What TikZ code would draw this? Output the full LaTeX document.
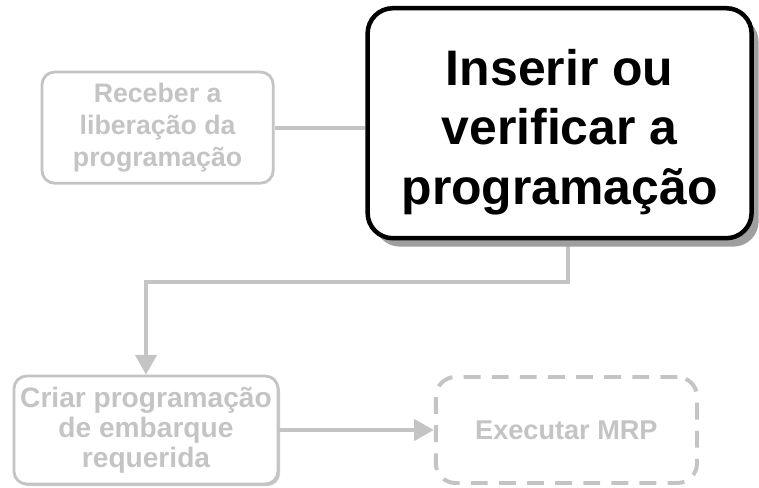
\documentclass[tikz,border=0pt]{standalone}
\usepackage{fontspec}
\setmainfont{Liberation Sans}
\usetikzlibrary{arrows.meta,shapes,shadows,backgrounds}
\definecolor{cinza}{HTML}{C4C4C4}
\tikzset{
  caixa/.style={draw=cinza,line width=2pt,rounded corners=9pt,align=center,text=cinza,fill=white,
    font=\fontsize{19}{22.5}\selectfont\bfseries},
  ligacao/.style={cinza,line width=2.8pt},
  seta/.style={ligacao,-{Triangle[length=14pt,width=15pt]}}
}
\begin{document}
\begin{tikzpicture}
\useasboundingbox (0,0) rectangle (18.975,-12.175);
%% caixas
\node[caixa,minimum width=5.78cm,minimum height=2.78cm](rec) at (3.94,-3.19){Receber a\\liberação da\\programação};
\node[draw=black,line width=3.2pt,rounded corners=18pt,fill=white,
  minimum width=9.6cm,minimum height=5.75cm,font=\fontsize{35.5}{42.3}\selectfont\bfseries,
  drop shadow={shadow xshift=5pt,shadow yshift=-6pt,fill=gray!75,opacity=1}](ins) at (13.99,-3.08)
  {\raisebox{0pt}[\dimexpr\height+14pt\relax][\depth]{\begin{tabular}{@{}c@{}}Inserir ou\\verificar a\\programação\end{tabular}}};
\node[caixa,minimum width=6.6cm,minimum height=2.7cm,font=\fontsize{20}{21.5}\selectfont\bfseries,
  drop shadow={shadow xshift=1.5pt,shadow yshift=-1.5pt,fill=gray!40,opacity=1}](cri) at (3.65,-10.75){Criar programação\\de embarque\\requerida};
\node[caixa,line width=2.8pt,dash pattern=on 12pt off 8pt,rounded corners=14pt,
  minimum width=6.53cm,minimum height=2.65cm,font=\fontsize{19.3}{22}\selectfont\bfseries](exe) at (14.16,-10.75){Executar MRP};
%% ligacoes
\begin{pgfonlayer}{background}
\draw[ligacao] (rec.east)--(rec.east-|ins.west);
\draw[seta] (ins.south)++(0.2,0)--++(0,-1.05)-|(cri.north);
\end{pgfonlayer}
\draw[seta] (cri.east)--(exe.west);
\end{tikzpicture}
\end{document}
